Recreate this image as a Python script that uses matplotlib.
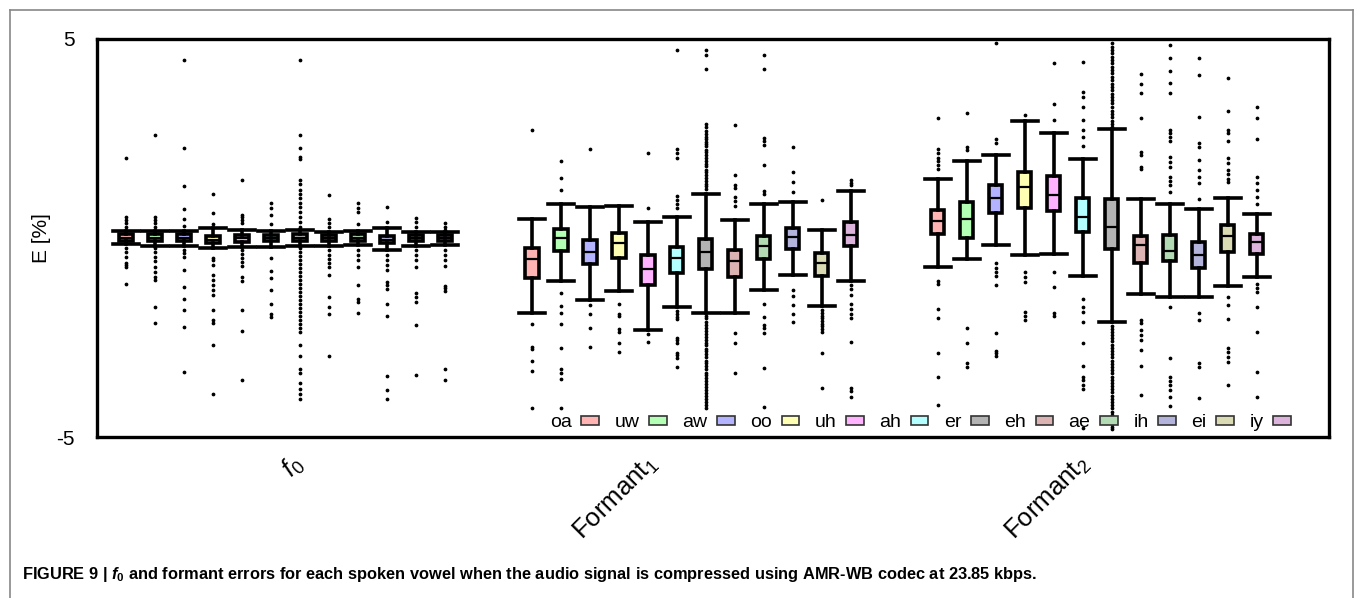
import numpy as np
import matplotlib
matplotlib.use("Agg")
import matplotlib.pyplot as plt
from matplotlib.patches import Patch
from matplotlib.lines import Line2D

plt.rcParams['font.family'] = ['Liberation Sans', 'DejaVu Sans']
plt.rcParams['mathtext.fontset'] = 'custom'
plt.rcParams['mathtext.rm'] = 'Liberation Sans'
plt.rcParams['mathtext.it'] = 'Liberation Sans:italic'
plt.rcParams['mathtext.bf'] = 'Liberation Sans:bold'
plt.rcParams['mathtext.bfit'] = 'Liberation Sans:bold:italic'

vowels = ['oa', 'uw', 'aw', 'oo', 'uh', 'ah', 'er', 'eh', 'ae', 'ih', 'ei', 'iy']
colors = ['#ffb3b3', '#b3ffb3', '#b3b3ff', '#ffffb3', '#ffb3ff', '#b3ffff',
          '#b3b3b3', '#dbb3b3', '#b3dbb3', '#b3b3db', '#dbdbb3', '#dbb3db']
group_labels = [r'$f_0$', r'Formant$_1$', r'Formant$_2$']

# ---- f0 errors (%) ----
f0_whishi = [0.18, 0.18, 0.18, 0.24, 0.20, 0.17, 0.20, 0.14, 0.18, 0.24, 0.16, 0.14]
f0_q3 = [0.10, 0.10, 0.10, 0.06, 0.08, 0.08, 0.10, 0.08, 0.10, 0.06, 0.08, 0.08]
f0_med = [-0.01, 0.0, -0.01, -0.05, -0.01, 0.0, 0.0, -0.01, 0.0, -0.05, 0.0, 0.0]
f0_q1 = [-0.08, -0.08, -0.08, -0.13, -0.09, -0.08, -0.08, -0.08, -0.08, -0.13, -0.08, -0.08]
f0_whislo = [-0.16, -0.19, -0.19, -0.25, -0.22, -0.22, -0.20, -0.20, -0.18, -0.30, -0.19, -0.18]
f0_fliers = [
    [2.01, 0.54, 0.45, 0.37, 0.28, -0.26, -0.34, -0.47, -0.64, -0.69, -0.74, -1.16],
    [2.6, 0.54, 0.45, 0.37, 0.28, -0.26, -0.36, -0.47, -0.58, -0.72, -0.85, -0.98, -1.06, -1.73, -2.14],
    [4.47, 2.27, 1.31, 0.74, 0.47, 0.3, -0.3, -0.38, -0.47, -0.8, -1.24, -1.54, -1.81, -2.23, -3.37],
    [1.11, 0.62, 0.34, -0.49, -0.55, -0.67, -0.94, -1.06, -1.18, -1.3, -1.44, -1.81, -2.06, -2.14, -2.69, -3.92],
    [1.45, 0.59, 0.54, 0.45, 0.37, -0.31, -0.4, -0.5, -0.6, -0.71, -0.97, -1.09, -1.81, -2.34, -3.58],
    [0.87, 0.75, 0.58, 0.34, -0.49, -0.84, -1.0, -1.3, -1.66, -1.91, -1.98],
    [4.47, 2.6, 2.27, 2.04, 1.99, 1.46, 1.36, 1.21, 1.1, 1.0, 0.89, 0.79, 0.66, 0.54, 0.41, 0.28,
     -0.26, -0.35, -0.45, -0.55, -0.65, -0.75, -0.85, -0.95, -1.05, -1.15, -1.25, -1.35, -1.45,
     -1.55, -1.65, -1.75, -1.85, -1.95, -2.05, -2.15, -2.25, -2.35, -2.69, -2.96, -3.28, -3.4,
     -3.65, -3.8, -3.93, -4.05],
    [1.07, 0.48, 0.37, 0.27, -0.31, -0.42, -0.53, -0.63, -0.74, -0.93, -1.47, -1.73, -1.91, -2.96],
    [0.89, 0.76, 0.66, 0.34, -0.31, -0.43, -0.55, -0.72, -1.18, -1.54, -1.62, -1.89],
    [0.79, 0.4, -0.43, -0.55, -0.68, -0.8, -1.1, -1.18, -1.27, -1.66, -1.96, -3.47, -3.82, -4.05],
    [0.5, 0.39, 0.28, -0.31, -0.43, -0.55, -0.72, -1.39, -1.47, -1.6, -2.18, -3.43],
    [0.37, 0.28, 0.2, -0.31, -0.43, -0.55, -0.7, -1.2, -1.26, -1.32, -3.3, -3.58],
]

# ---- Formant 1 errors (%) ----
f1_whishi = [0.49, 0.85, 0.79, 0.81, 0.41, 0.52, 1.11, 0.44, 0.85, 0.91, 0.20, 1.18]
f1_q3 = [-0.26, 0.23, -0.04, 0.13, -0.43, -0.23, -0.02, -0.31, 0.04, 0.24, -0.37, 0.40]
f1_med = [-0.54, 0.0, -0.36, -0.13, -0.77, -0.49, -0.34, -0.57, -0.21, 0.02, -0.64, 0.08]
f1_q1 = [-1.0, -0.33, -0.66, -0.51, -1.19, -0.89, -0.77, -0.99, -0.52, -0.28, -0.95, -0.20]
f1_whislo = [-1.88, -1.08, -1.57, -1.34, -2.31, -1.73, -1.88, -1.89, -1.31, -0.92, -1.72, -1.08]
f1_fliers = [
    [2.71, -2.17, -2.73, -2.8, -3.1, -3.33, -4.28],
    [1.93, 1.52, 1.2, -1.37, -1.72, -1.88, -2.15, -2.76, -3.3, -3.38, -3.53, -4.28],
    [2.23, -1.69, -1.91, -2.25, -2.73],
    [-1.67, -1.91, -1.96, -2.29, -2.36, -2.64, -2.86],
    [2.13, 0.75, -2.41, -2.62],
    [4.72, 2.23, 2.13, 2.0, 1.05, 0.95, 0.85, 0.75, -1.83, -1.9, -1.98, -2.04, -2.5, -2.56, -2.65,
     -2.88, -2.93, -3.02, -3.25],
    [4.72, 4.6, 4.25, 2.86, 2.78, 2.7, 2.62, 2.55, 2.48, 2.42, 2.36, 2.3, 2.22, 2.15, 2.08, 2.0,
     1.93, 1.86, 1.8, 1.72, 1.65, 1.58, 1.5, 1.43, 1.36, 1.3, 1.22,
     -1.95, -2.02, -2.1, -2.18, -2.25, -2.33, -2.4, -2.48, -2.55, -2.63, -2.7, -2.78, -2.85, -2.92,
     -3.0, -3.08, -3.15, -3.22, -3.3, -3.38, -3.45, -3.52, -3.6, -3.68, -3.75, -3.82, -3.9, -3.98,
     -4.05, -4.12, -4.2, -4.28],
    [2.85, 1.58, 1.32, 1.25, 1.04, 0.93, 0.81, -2.39, -2.63, -3.4],
    [4.6, 4.25, 2.5, 2.43, 2.34, 1.83, 1.19, 1.1, -1.66, -1.98, -2.19, -2.25, -2.38, -3.27, -4.24],
    [2.29, 1.67, 1.41, 1.16, -1.31, -1.45, -1.69, -1.91, -2.11],
    [0.95, -1.81, -1.88, -1.95, -2.02, -2.09, -2.16, -2.22, -2.29, -2.35, -2.88, -3.78],
    [1.46, 1.38, 1.33, -1.19, -1.29, -1.43, -1.66, -1.78, -1.9, -2.01, -2.61, -3.78, -3.85, -3.99],
]

# ---- Formant 2 errors (%) ----
f2_whishi = [1.48, 1.94, 2.09, 2.95, 2.64, 1.98, 2.74, 0.99, 0.85, 0.73, 1.00, 0.60]
f2_q3 = [0.70, 0.90, 1.33, 1.67, 1.56, 1.00, 0.97, 0.06, 0.08, -0.11, 0.33, 0.10]
f2_med = [0.43, 0.48, 1.01, 1.29, 1.07, 0.53, 0.27, -0.18, -0.33, -0.43, 0.04, -0.11]
f2_q1 = [0.09, 0.01, 0.64, 0.76, 0.68, 0.14, -0.28, -0.64, -0.59, -0.75, -0.34, -0.40]
f2_whislo = [-0.74, -0.54, -0.18, -0.43, -0.39, -0.95, -2.12, -1.41, -1.49, -1.49, -1.21, -0.99]
f2_fliers = [
    [3.02, 2.24, 2.13, 2.02, 1.93, 1.83, 1.73, -1.07, -1.16, -1.79, -2.02, -2.88, -3.5, -4.2],
    [3.15, 2.29, 2.21, -2.25, -2.65, -3.15, -3.23],
    [4.89, 2.48, 2.38, -0.64, -0.75, -0.86, -0.96, -1.17, -2.38, -2.83, -2.9, -2.96],
    [3.09, -0.85, -0.97, -1.1, -1.85, -1.96, -2.06],
    [4.39, 3.37, 2.96, -0.86, -1.24, -1.89, -1.96],
    [4.41, 3.68, 3.55, 3.28, 2.96, 2.71, 2.55, 2.31, -1.52, -1.74, -1.85, -2.1, -2.63, -3.22,
     -3.48, -3.57, -3.69, -3.8, -4.78],
    [4.89, 4.8, 4.72, 4.64, 4.56, 4.48, 4.4, 4.3, 4.22, 4.14, 4.05, 3.96, 3.88, 3.8, 3.72, 3.63,
     3.55, 3.46, 3.38, 3.3, 3.2, 3.12, 3.03, 2.95, 2.87, 2.8,
     -2.2, -2.28, -2.36, -2.44, -2.52, -2.6, -2.68, -2.76, -2.84, -2.92, -3.0, -3.08, -3.16, -3.24,
     -3.32, -3.4, -3.48, -3.56, -3.64, -3.72, -3.8, -3.88, -3.96, -4.04, -4.12, -4.2, -4.28, -4.36,
     -4.44, -4.52, -4.6, -4.68, -4.76, -4.8],
    [4.11, 3.86, 3.65, 3.02, 2.17, 2.08, 1.79, 1.73, -2.06, -2.14, -2.31, -2.44, -2.56, -2.81, -3.22, -3.94],
    [4.85, 4.51, 4.2, 3.89, 3.65, 2.71, 2.63, 2.54, 2.44, 2.04, 1.92, 1.79, 1.54, 1.44, 1.33, 1.15,
     -1.74, -3.02, -3.48, -3.6, -3.69, -3.82, -3.99, -4.22],
    [4.51, 4.1, 3.05, 2.38, 2.29, 1.96, 1.71, 1.54, 1.37, 0.97, -1.89, -2.06, -3.13, -3.25, -4.03],
    [4.03, 3.19, 2.71, 2.63, 2.44, 2.0, 1.89, 1.71, 1.62, 1.49, 1.41, -1.47, -1.68, -2.04, -2.77,
     -2.86, -2.98, -3.11, -3.69],
    [3.3, 3.01, 2.49, 1.54, 1.37, 1.2, 1.04, 0.85, -1.16, -1.26, -1.35, -1.74, -2.35, -3.37, -3.99],
]

groups = [
    (f0_whishi, f0_q3, f0_med, f0_q1, f0_whislo, f0_fliers),
    (f1_whishi, f1_q3, f1_med, f1_q1, f1_whislo, f1_fliers),
    (f2_whishi, f2_q3, f2_med, f2_q1, f2_whislo, f2_fliers),
]

fig = plt.figure(figsize=(13.55, 5.98), dpi=100)
ax = fig.add_axes([0.0716, 0.2692, 0.9093, 0.6656])

lw = 2.6
for g, (whishi, q3, med, q1, whislo, fliers) in enumerate(groups):
    stats = []
    for i in range(len(vowels)):
        stats.append(dict(whishi=whishi[i], q3=q3[i], med=med[i], q1=q1[i],
                          whislo=whislo[i], fliers=fliers[i]))
    positions = np.arange(1, 13) + 14 * g
    bp = ax.bxp(stats, positions=positions, widths=0.46, capwidths=0.9,
                patch_artist=True, manage_ticks=False,
                boxprops=dict(linewidth=lw, edgecolor='black'),
                whiskerprops=dict(linewidth=lw, color='black'),
                capprops=dict(linewidth=lw, color='black'),
                medianprops=dict(linewidth=1.6, color='black'),
                flierprops=dict(marker='o', markersize=1.7, markerfacecolor='black',
                                markeredgecolor='black', linestyle='none'))
    for patch, c in zip(bp['boxes'], colors):
        patch.set_facecolor(c)

ax.set_xlim(0, 42.5)
ax.set_ylim(-5, 5)
ax.set_yticks([-5, 5])
ax.set_yticklabels(['-5', '5'])
ax.set_xticks([6.75, 17.9, 32.8])
ax.set_xticklabels(group_labels, rotation=45, ha='center', va='top', fontsize=18.5)
ax.tick_params(axis='both', length=0)
ax.tick_params(axis='y', pad=16, labelsize=15)
ax.tick_params(axis='x', pad=10)
ax.set_ylabel('E [%]', fontsize=15, labelpad=4)
for s in ax.spines.values():
    s.set_linewidth(2.4)

handles = [Patch(facecolor=c, edgecolor='#333333', linewidth=1.2) for c in colors]
ax.legend(handles, vowels, ncol=12, loc='lower right', bbox_to_anchor=(0.983, -0.03),
          frameon=False, markerfirst=False, fontsize=14, handlelength=0.9,
          handleheight=0.3, handletextpad=0.5, columnspacing=0.8)

# outer gray frame of the figure panel
fig.add_artist(Line2D([10 / 1355, 10 / 1355], [0, 1 - 10 / 598], color='#888888', lw=1.2))
fig.add_artist(Line2D([10 / 1355, 1353 / 1355], [1 - 10 / 598, 1 - 10 / 598], color='#888888', lw=1.2))
fig.add_artist(Line2D([1353 / 1355, 1353 / 1355], [0, 1 - 10 / 598], color='#888888', lw=1.2))

fig.text(22 / 1355, 19 / 598,
         r'FIGURE 9 | $\mathbfit{f}_{\mathbf{0}}$ and formant errors for each spoken vowel when '
         r'the audio signal is compressed using AMR-WB codec at 23.85 kbps.',
         fontsize=11.8, fontweight='bold', ha='left', va='baseline')

fig.savefig('out.png', dpi=100)
